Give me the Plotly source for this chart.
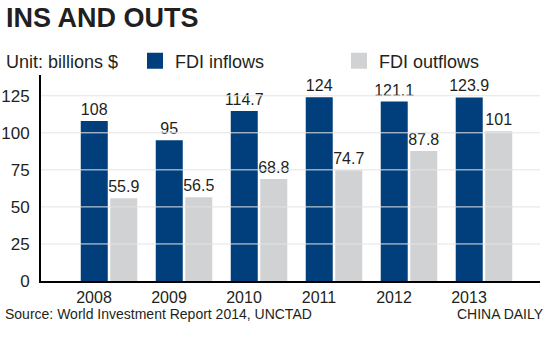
import plotly.graph_objects as go

years = ["2008", "2009", "2010", "2011", "2012", "2013"]
inflows = [108, 95, 114.7, 124, 121.1, 123.9]
outflows = [55.9, 56.5, 68.8, 74.7, 87.8, 101]
y_ticks = [0, 25, 50, 75, 100, 125]

BLUE = "#003f7b"
GRAY = "#d1d2d4"
TXT = "#231f20"
FONT = "Liberation Sans"

W, H = 550, 338
ML, MR, MT, MB = 41, 10, 75, 57

fig = go.Figure()
for name, vals, col in [("FDI inflows", inflows, BLUE), ("FDI outflows", outflows, GRAY)]:
    fig.add_trace(go.Bar(name=name, x=years, y=vals, marker_color=col,
                         marker_line_width=0, texttemplate="%{y}", textposition="outside",
                         constraintext="none", showlegend=False,
                         textfont=dict(size=16, color=TXT, family=FONT), cliponaxis=False))
# legend entries with larger square swatches
for name, col in [("FDI inflows", BLUE), ("FDI outflows", GRAY)]:
    fig.add_trace(go.Scatter(name=name, x=[None], y=[None], mode="markers",
                             marker=dict(symbol="square", size=16, color=col),
                             showlegend=True))

for t in y_ticks[1:]:
    fig.add_shape(type="line", xref="paper", yref="y", x0=0, x1=1, y0=t, y1=t,
                  line=dict(color="#e4e4e4", width=1), layer="above")

pw = W - ML - MR
ph = H - MT - MB
def px_x(px):
    return (px - ML) / pw
def px_y(py):
    return (H - MB - py) / ph

def ann(text, px, py, size, anchor="left"):
    return dict(text=text, xref="paper", yref="paper", x=px_x(px), y=px_y(py),
                xanchor=anchor, yanchor="middle", showarrow=False,
                font=dict(size=size, color=TXT, family=FONT))

fig.update_layout(
    width=W, height=H,
    margin=dict(l=ML, r=MR, t=MT, b=MB, autoexpand=False),
    paper_bgcolor="white", plot_bgcolor="white",
    barmode="group", bargap=0.213, bargroupgap=0.085,
    font=dict(family=FONT, color=TXT, size=16),
    showlegend=True,
    legend=dict(orientation="h", x=px_x(135), xanchor="left", y=px_y(61), yanchor="middle",
                font=dict(size=18, color=TXT, family=FONT),
                entrywidth=159, entrywidthmode="pixels", itemsizing="trace",
                bgcolor="rgba(0,0,0,0)", itemclick=False),
    xaxis=dict(type="category", range=[-0.907, 5.747], showgrid=False,
               showline=True, linecolor="black", linewidth=2,
               ticks="", tickfont=dict(size=16, color=TXT), ticklabelshift=-15,
               ticklabelstandoff=1),
    yaxis=dict(range=[0, 139], tickvals=y_ticks, showgrid=False, zeroline=False,
               showline=True, linecolor="black", linewidth=2,
               ticks="", tickfont=dict(size=17, color=TXT), ticklabelstandoff=6),
    annotations=[
        ann("<b>INS AND OUTS</b>", 4, 18, 27),
        ann("Unit: billions $", 4, 62, 18),
        ann("Source: World Investment Report 2014, UNCTAD", 3, 314, 14),
        ann("CHINA DAILY", 546, 314, 14, "right"),
    ],
)

fig.write_html("out.html")
